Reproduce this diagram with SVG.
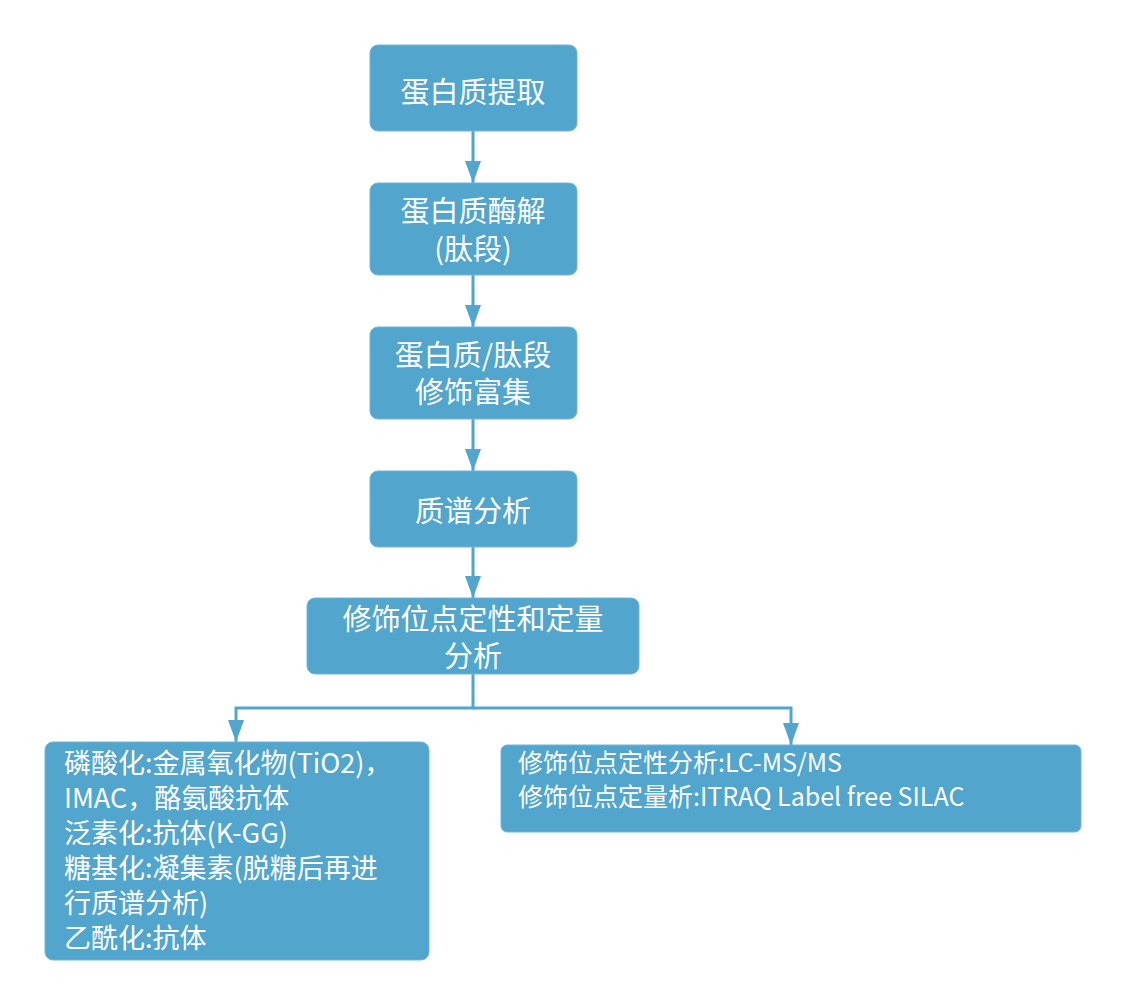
<svg xmlns="http://www.w3.org/2000/svg" width="1128" height="1006" viewBox="0 0 1128 1006">
<defs>
<style>
.box{fill:#52a5cc;stroke:#6fb6d6;stroke-width:1}
.t{font-family:"Noto Sans CJK SC","Noto Sans",sans-serif;fill:#ffffff}
.c{font-size:29px;text-anchor:middle}
.l{font-size:27px}
.r{font-size:25px}
.conn{fill:none;stroke:#52a5cc;stroke-width:3}
</style>
<marker id="ah" viewBox="0 0 22 16" refX="22" refY="8" markerWidth="22" markerHeight="16" markerUnits="userSpaceOnUse" orient="auto">
<path d="M0,0 L22,8 L0,16 Z" fill="#52a5cc"/>
</marker>
</defs>
<rect width="1128" height="1006" fill="#ffffff"/>
<g id="connectors">
<path class="conn" d="M473,131 V183" marker-end="url(#ah)"/>
<path class="conn" d="M473,275 V327" marker-end="url(#ah)"/>
<path class="conn" d="M473,419 V471" marker-end="url(#ah)"/>
<path class="conn" d="M473,547 V598" marker-end="url(#ah)"/>
<path class="conn" d="M473,674 V708 H236 V742" marker-end="url(#ah)"/>
<path class="conn" d="M473,708 H791 V745" marker-end="url(#ah)"/>
</g>
<g id="n1">
<rect class="box" x="370" y="45" width="207" height="86" rx="8"/>
<text class="t c" x="473" y="103">蛋白质提取</text>
</g>
<g id="n2">
<rect class="box" x="370" y="183" width="207" height="92" rx="8"/>
<text class="t c" x="473" y="222">蛋白质酶解</text>
<text class="t c" x="473" y="260">(肽段)</text>
</g>
<g id="n3">
<rect class="box" x="370" y="327" width="207" height="92" rx="8"/>
<text class="t c" x="473" y="366">蛋白质/肽段</text>
<text class="t c" x="473" y="403">修饰富集</text>
</g>
<g id="n4">
<rect class="box" x="370" y="471" width="207" height="76" rx="8"/>
<text class="t c" x="473" y="522">质谱分析</text>
</g>
<g id="n5">
<rect class="box" x="307" y="598" width="332" height="76" rx="8"/>
<text class="t c" x="473" y="630">修饰位点定性和定量</text>
<text class="t c" x="473" y="667">分析</text>
</g>
<g id="n6">
<rect class="box" x="45" y="742" width="384" height="218" rx="8"/>
<text class="t l" x="64" y="773">磷酸化:金属氧化物(TiO2)，</text>
<text class="t l" x="64" y="808">IMAC，酪氨酸抗体</text>
<text class="t l" x="64" y="843">泛素化:抗体(K-GG)</text>
<text class="t l" x="64" y="878">糖基化:凝集素(脱糖后再进</text>
<text class="t l" x="64" y="913">行质谱分析)</text>
<text class="t l" x="64" y="948">乙酰化:抗体</text>
</g>
<g id="n7">
<rect class="box" x="501" y="745" width="580" height="87" rx="6"/>
<text class="t r" x="518" y="772">修饰位点定性分析:LC-MS/MS</text>
<text class="t r" x="518" y="806">修饰位点定量析:ITRAQ Label free SILAC</text>
</g>
</svg>
